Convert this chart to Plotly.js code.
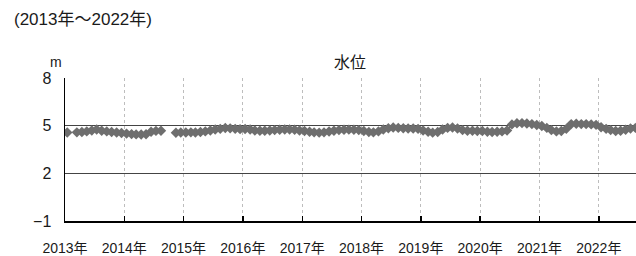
<!DOCTYPE html>
<html>
<head>
<meta charset="utf-8">
<script src="https://cdn.plot.ly/plotly-3.0.1.min.js"></script>
<style>html,body{margin:0;padding:0;background:#fff;}#chart{width:636px;height:256px;}</style>
</head>
<body>
<div id="chart"></div>
<script>
// Monthly water level (m), Jan..Dec of each year; null = no observation
const years = [2013, 2014, 2015, 2016, 2017, 2018, 2019, 2020, 2021, 2022];
const level2013 = [4.57, null, 4.58, 4.60, 4.64, 4.70, 4.76, 4.68, 4.64, 4.60, 4.57, 4.54];
const level2014 = [4.50, 4.47, 4.45, 4.44, 4.46, 4.62, 4.67, 4.68, null, null, 4.55, 4.57];
const level2015 = [4.57, 4.58, 4.57, 4.60, 4.64, 4.70, 4.76, 4.80, 4.85, 4.83, 4.80, 4.78];
const level2016 = [4.79, 4.76, 4.70, 4.68, 4.68, 4.70, 4.72, 4.74, 4.76, 4.76, 4.74, 4.70];
const level2017 = [4.66, 4.62, 4.58, 4.56, 4.58, 4.63, 4.68, 4.72, 4.74, 4.75, 4.74, 4.72];
const level2018 = [4.66, 4.60, 4.58, 4.64, 4.76, 4.84, 4.88, 4.86, 4.84, 4.82, 4.82, 4.80];
const level2019 = [4.70, 4.62, 4.56, 4.60, 4.76, 4.86, 4.88, 4.82, 4.72, 4.68, 4.68, 4.66];
const level2020 = [4.66, 4.62, 4.60, 4.62, 4.64, 4.70, 5.08, 5.15, 5.16, 5.14, 5.10, 5.04];
const level2021 = [4.98, 4.86, 4.72, 4.64, 4.66, 4.80, 5.10, 5.12, 5.10, 5.10, 5.08, 5.05];
const level2022 = [4.90, 4.80, 4.72, 4.66, 4.68, 4.74, 4.82, 4.86, 4.88];
const levels = [level2013, level2014, level2015, level2016, level2017, level2018, level2019, level2020, level2021, level2022];
const yTickVals = [-1, 2, 5, 8];
const yTickText = ['\u22121', '2', '5', '8'];
const xTickText = years.map(y => y + '年');

const xs = [], ys = [];
years.forEach((yr, i) => {
  levels[i].forEach((v, m) => {
    xs.push(yr + '-' + String(m + 1).padStart(2, '0') + '-15');
    ys.push(v);
  });
});

const font = 'Liberation Sans, Arial, Noto Sans CJK JP, sans-serif';
const trace = {
  x: xs, y: ys, type: 'scatter', mode: 'lines+markers',
  line: {color: '#6e6e6e', width: 2},
  marker: {symbol: 'diamond', size: 8, color: '#6e6e6e'},
  connectgaps: false, hoverinfo: 'skip'
};

const layout = {
  width: 636, height: 256,
  margin: {l: 65, r: 0, t: 78, b: 35},
  paper_bgcolor: '#fff', plot_bgcolor: '#fff',
  showlegend: false,
  font: {family: font, color: '#1a1a1a'},
  xaxis: {
    type: 'date', range: ['2013-01-01', '2022-08-18'],
    tickvals: years.map(y => y + '-01-01'), ticktext: xTickText,
    ticks: 'inside', ticklen: 5, tickcolor: '#000', tickwidth: 1.5,
    showline: true, linecolor: '#000', linewidth: 2,
    showgrid: true, gridcolor: '#bdbdbd', griddash: 'dot', gridwidth: 1,
    zeroline: false, tickfont: {size: 14, family: font, color: '#1a1a1a'},
    ticklabelstandoff: 13, fixedrange: true
  },
  yaxis: {
    range: [-1, 8], tickvals: yTickVals, ticktext: yTickText,
    ticks: 'outside', ticklen: 9, tickcolor: 'rgba(0,0,0,0)',
    showline: true, linecolor: '#000', linewidth: 1.5,
    showgrid: true, gridcolor: '#444', gridwidth: 1.5,
    zeroline: false, tickfont: {size: 16, family: font, color: '#1a1a1a'},
    fixedrange: true
  },
  annotations: [
    {text: '(2013年～2022年)', xref: 'paper', yref: 'paper', x: (12 - 65) / 571, y: (221 - 19) / 143,
     xanchor: 'left', yanchor: 'middle', showarrow: false, font: {size: 17, family: font, color: '#1a1a1a'}},
    {text: '水位', xref: 'paper', yref: 'paper', x: (350 - 65) / 571, y: (221 - 62) / 143,
     xanchor: 'center', yanchor: 'middle', showarrow: false, font: {size: 16, family: font, color: '#1a1a1a'}},
    {text: 'm', xref: 'paper', yref: 'paper', x: (56 - 65) / 571, y: (221 - 62) / 143,
     xanchor: 'center', yanchor: 'middle', showarrow: false, font: {size: 14, family: font, color: '#1a1a1a'}}
  ]
};

Plotly.newPlot('chart', [trace], layout, {staticPlot: true, displayModeBar: false});
</script>
</body>
</html>
